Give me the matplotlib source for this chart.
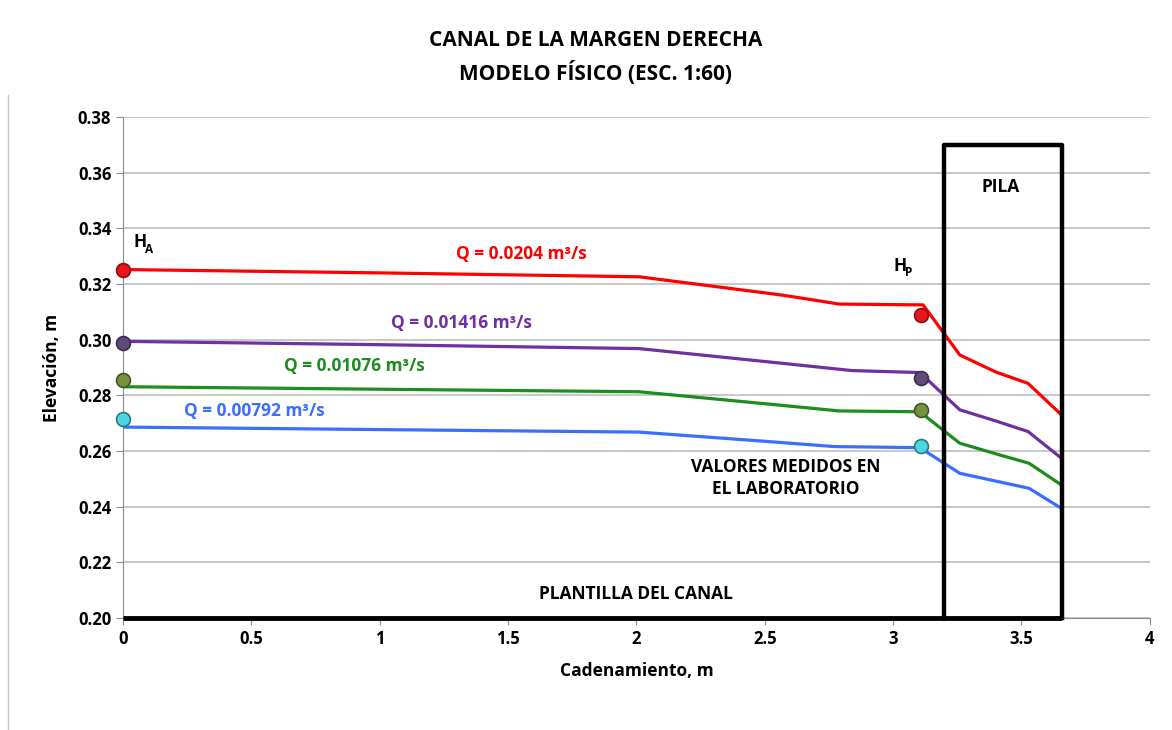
import matplotlib.pyplot as plt
from matplotlib.lines import Line2D

plt.rcParams['font.family'] = ['Open Sans', 'DejaVu Sans']

# perfiles de la superficie libre (cadenamiento, elevacion)
x_red = [0, 1.0, 2.01, 2.57, 2.79, 3.117, 3.26, 3.40, 3.526, 3.656]
y_red = [0.3252, 0.3240, 0.3226, 0.3160, 0.3128, 0.3125, 0.2945, 0.2884, 0.2843, 0.2730]

x_pur = [0, 1.0, 2.01, 2.57, 2.84, 3.104, 3.26, 3.40, 3.526, 3.656]
y_pur = [0.2994, 0.2982, 0.2968, 0.2915, 0.2889, 0.2882, 0.2748, 0.2708, 0.2670, 0.2574]

x_grn = [0, 1.0, 2.01, 2.50, 2.79, 3.104, 3.26, 3.40, 3.53, 3.656]
y_grn = [0.2831, 0.2822, 0.2813, 0.2770, 0.2744, 0.2741, 0.2628, 0.2590, 0.2556, 0.2478]

x_blu = [0, 1.0, 2.01, 2.50, 2.77, 3.104, 3.26, 3.40, 3.53, 3.656]
y_blu = [0.2686, 0.2677, 0.2668, 0.2635, 0.2616, 0.2612, 0.2520, 0.2492, 0.2466, 0.2394]

# valores medidos en laboratorio (H_A en x=0, H_P en x=3.108)
x_med = [0, 3.108]
med_red = [0.3252, 0.3089]
med_pur = [0.2988, 0.2861]
med_grn = [0.2855, 0.2748]
med_blu = [0.2714, 0.2618]

# pila y plantilla
pila_x = [3.2, 3.66]
pila_top = 0.37
plantilla_x = [0, 3.66]
plantilla_y = 0.20

fig = plt.figure(figsize=(11.72, 7.30), dpi=100)
ax = fig.add_axes([0.105, 0.1534, 0.876, 0.6863])

ax.set_xlim(0, 4)
ax.set_ylim(0.20, 0.38)
ax.set_yticks([0.20 + 0.02 * i for i in range(10)])
ax.set_xticks([0, 0.5, 1, 1.5, 2, 2.5, 3, 3.5, 4])
ax.set_xticklabels(['0', '0.5', '1', '1.5', '2', '2.5', '3', '3.5', '4'])
ax.set_yticklabels(['%.2f' % (0.20 + 0.02 * i) for i in range(10)])
ax.grid(axis='y', color='#bfbfbf', lw=1.2)
ax.set_axisbelow(True)
for s in ['top', 'right']:
    ax.spines[s].set_visible(False)
ax.spines['left'].set_color('#8c8c8c')
ax.spines['bottom'].set_color('#8c8c8c')
ax.tick_params(colors='#8c8c8c', length=5, labelcolor='black', labelsize=12)
for lab in ax.get_xticklabels() + ax.get_yticklabels():
    lab.set_fontweight('bold')

series = [
    (x_red, y_red, med_red, '#ff0000', '#e8141c', '#8b1010'),
    (x_pur, y_pur, med_pur, '#7030a0', '#604a7b', '#3b2d4d'),
    (x_grn, y_grn, med_grn, '#1e8c1e', '#76923c', '#45561f'),
    (x_blu, y_blu, med_blu, '#3a6eff', '#4bd6e0', '#2a7a80'),
]
for xs, ys, med, c, mc, ec in series:
    ax.plot(xs, ys, color=c, lw=2.3, zorder=3)
    ax.plot(x_med, med, 'o', ms=10, mfc=mc, mec=ec, mew=1.2, zorder=5, clip_on=False)

# plantilla del canal y pila
ax.plot(plantilla_x, [plantilla_y, plantilla_y], color='black', lw=3.5, zorder=4,
        solid_capstyle='butt', clip_on=False)
ax.plot([pila_x[0], pila_x[0], pila_x[1], pila_x[1]],
        [plantilla_y, pila_top, pila_top, plantilla_y],
        color='black', lw=3.2, zorder=4, clip_on=False)

tk = dict(fontsize=12.5, fontweight='bold', ha='center', va='center')
ax.text(1.55, 0.3308, 'Q = 0.0204 m³/s', color='#ff0000', **tk)
ax.text(1.32, 0.3060, 'Q = 0.01416 m³/s', color='#7030a0', **tk)
ax.text(0.90, 0.2905, 'Q = 0.01076 m³/s', color='#1e8c1e', **tk)
ax.text(0.51, 0.2744, 'Q = 0.00792 m³/s', color='#3a6eff', **tk)

# H_A y H_P con subindice
for hx, hy, sub in [(0.04, 0.3350, 'A'), (3.00, 0.3265, 'P')]:
    h = ax.text(hx, hy, 'H', color='black', fontsize=12.5, fontweight='bold',
                ha='left', va='center')
    ax.annotate(sub, xy=(1, 0), xycoords=h, xytext=(-1, 1.5), textcoords='offset points',
                fontsize=8.5, fontweight='bold', ha='left', va='center')

ax.text(3.42, 0.3549, 'PILA', color='black', **tk)
ax.text(2.58, 0.2503, 'VALORES MEDIDOS EN\nEL LABORATORIO', color='black',
        linespacing=1.25, **tk)
ax.text(2.0, 0.2086, 'PLANTILLA DEL CANAL', color='black', **tk)

ax.set_xlabel('Cadenamiento, m', fontsize=12.5, fontweight='bold', labelpad=10)
ax.set_ylabel('Elevación, m', fontsize=12.5, fontweight='bold', labelpad=12)

fig.text(0.508, 0.945, 'CANAL DE LA MARGEN DERECHA', fontsize=15,
         fontweight='bold', ha='center', va='center')
fig.text(0.508, 0.900, 'MODELO FÍSICO (ESC. 1:60)', fontsize=15,
         fontweight='bold', ha='center', va='center')

# borde izquierdo del area del grafico
fig.add_artist(Line2D([8 / 1172, 8 / 1172], [0, 1 - 95 / 730], color='#c8c8c8', lw=1))

fig.savefig('out.png', dpi=100)
